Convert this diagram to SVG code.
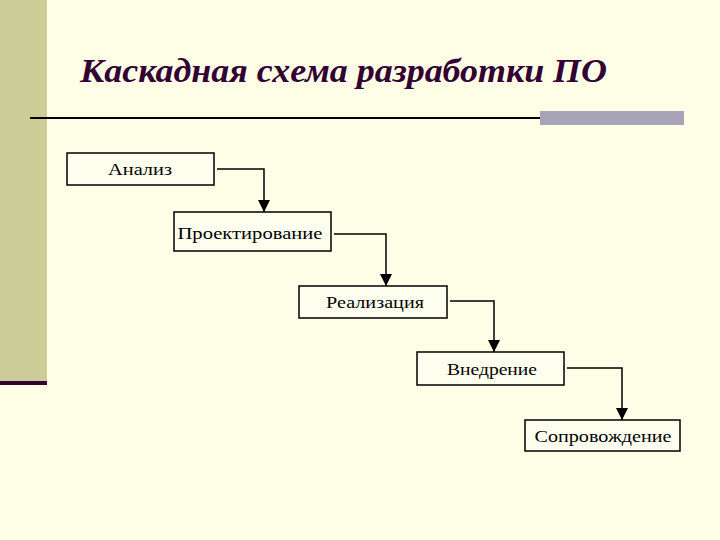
<svg xmlns="http://www.w3.org/2000/svg" width="720" height="540" viewBox="0 0 720 540">
<defs>
<style>
.box{fill:#fffff0;stroke:#000;stroke-width:1.5}
.lbl{font-family:'Liberation Serif','DejaVu Serif','Times New Roman',serif;font-size:17px;fill:#000;text-anchor:middle}
.con{fill:none;stroke:#000;stroke-width:1.5}
.ttl{font-family:'Liberation Serif','DejaVu Serif','Times New Roman',serif;font-size:34px;font-weight:bold;font-style:italic;fill:#330033}
</style>
<marker id="ar" viewBox="0 0 10 10" refX="10" refY="5" markerWidth="14" markerHeight="12" orient="auto" markerUnits="userSpaceOnUse"><path d="M0,0L10,5L0,10z" fill="#000"/></marker>
</defs>
<rect width="720" height="540" fill="#ffffe8"/>
<rect x="0" y="0" width="47" height="383" fill="#cccc99"/>
<rect x="0" y="381" width="47" height="4" fill="#330033"/>
<text class="ttl" x="80" y="82" textLength="527" lengthAdjust="spacingAndGlyphs">Каскадная схема разработки ПО</text>
<line x1="30" y1="118" x2="542" y2="118" stroke="#000" stroke-width="2"/>
<rect x="540" y="111" width="144" height="14" fill="#a8a4b8"/>
<g id="n1"><rect class="box" x="67" y="153" width="147" height="32"/><text class="lbl" x="140" y="175" textLength="64" lengthAdjust="spacingAndGlyphs">Анализ</text></g>
<g id="n2"><rect class="box" x="174" y="212" width="157" height="39"/><text class="lbl" x="250" y="239" textLength="145" lengthAdjust="spacingAndGlyphs">Проектирование</text></g>
<g id="n3"><rect class="box" x="299" y="286" width="148" height="32"/><text class="lbl" x="375" y="308" textLength="98" lengthAdjust="spacingAndGlyphs">Реализация</text></g>
<g id="n4"><rect class="box" x="417" y="352" width="147" height="33"/><text class="lbl" x="492" y="375" textLength="90" lengthAdjust="spacingAndGlyphs">Внедрение</text></g>
<g id="n5"><rect class="box" x="525" y="420" width="155" height="31"/><text class="lbl" x="603" y="442" textLength="137" lengthAdjust="spacingAndGlyphs">Сопровождение</text></g>
<g id="connectors">
<path class="con" d="M217,169H264V212" marker-end="url(#ar)"/>
<path class="con" d="M334,234H386V286" marker-end="url(#ar)"/>
<path class="con" d="M450,301H494V352" marker-end="url(#ar)"/>
<path class="con" d="M567,368H622V420" marker-end="url(#ar)"/>
</g>
</svg>
